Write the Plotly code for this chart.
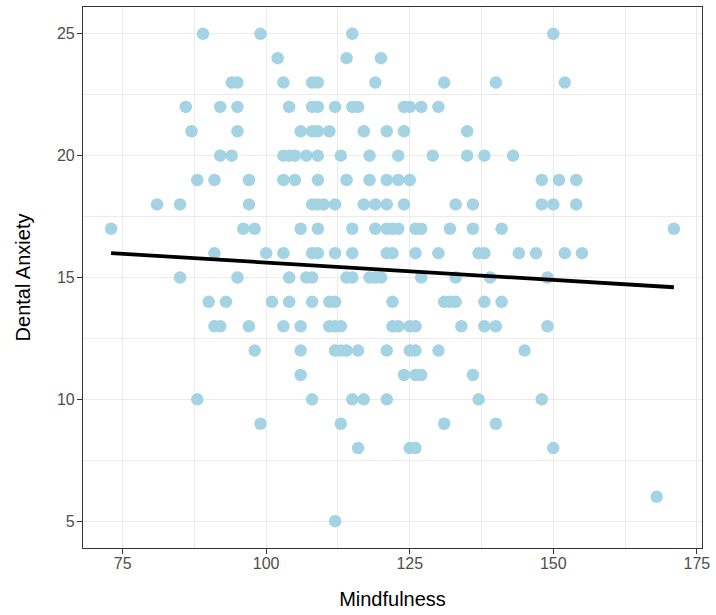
import plotly.graph_objects as go

mind_at_25 = [89, 99, 115, 150]
mind_at_24 = [102, 114, 120]
mind_at_23 = [94, 95, 103, 108, 109, 119, 131, 140, 152]
mind_at_22 = [86, 92, 95, 104, 108, 109, 112, 115, 116, 124, 125, 127, 130]
mind_at_21 = [87, 95, 106, 108, 109, 111, 117, 121, 124, 135]
mind_at_20 = [92, 94, 103, 104, 105, 107, 109, 113, 118, 123, 129, 135, 138, 143]
mind_at_19 = [88, 91, 97, 103, 105, 109, 114, 118, 121, 123, 125, 148, 151, 154]
mind_at_18 = [81, 85, 97, 108, 109, 110, 112, 117, 119, 121, 124, 133, 136, 148, 150, 154]
mind_at_17 = [73, 96, 98, 106, 109, 115, 119, 121, 122, 123, 126, 127, 132, 136, 141, 171]
mind_at_16 = [91, 100, 103, 108, 109, 112, 115, 121, 122, 126, 130, 137, 138, 144, 147, 152, 155]
mind_at_15 = [85, 95, 104, 107, 108, 114, 115, 118, 119, 120, 127, 133, 139, 149]
mind_at_14 = [90, 93, 101, 104, 108, 111, 112, 122, 131, 132, 133, 138, 141]
mind_at_13 = [91, 92, 97, 103, 106, 111, 112, 113, 122, 123, 125, 126, 134, 138, 140, 149]
mind_at_12 = [98, 106, 112, 113, 114, 116, 121, 125, 126, 130, 145]
mind_at_11 = [106, 124, 126, 127, 136]
mind_at_10 = [88, 108, 115, 117, 121, 137, 148]
mind_at_9 = [99, 113, 131, 140]
mind_at_8 = [116, 125, 126, 150]
mind_at_6 = [168]
mind_at_5 = [112]

levels = [25, 24, 23, 22, 21, 20, 19, 18, 17, 16, 15, 14, 13, 12, 11, 10, 9, 8, 6, 5]
groups = [mind_at_25, mind_at_24, mind_at_23, mind_at_22, mind_at_21, mind_at_20,
          mind_at_19, mind_at_18, mind_at_17, mind_at_16, mind_at_15, mind_at_14,
          mind_at_13, mind_at_12, mind_at_11, mind_at_10, mind_at_9, mind_at_8,
          mind_at_6, mind_at_5]

mindfulness = []
dental_anxiety = []
for lvl, xs in zip(levels, groups):
    mindfulness.extend(xs)
    dental_anxiety.extend([lvl] * len(xs))

# Fitted regression line end points
fit_x = [73, 171]
fit_y = [16.0, 14.6]

x_ticks = [75, 100, 125, 150, 175]
y_ticks = [5, 10, 15, 20, 25]

FONT = "Liberation Sans, Arial, sans-serif"

fig = go.Figure()
fig.add_trace(go.Scatter(
    x=mindfulness, y=dental_anxiety, mode="markers",
    marker=dict(color="#A4D3E3", size=12.5, line=dict(width=0)),
    showlegend=False, hoverinfo="x+y"))
fig.add_trace(go.Scatter(
    x=fit_x, y=fit_y, mode="lines",
    line=dict(color="black", width=3.8),
    showlegend=False))

axis_common = dict(
    automargin=False,
    showgrid=True, gridcolor="#EBEBEB", gridwidth=1.1,
    showline=True, linecolor="#333333", linewidth=1.2, mirror=True,
    ticks="outside", ticklen=5, tickcolor="#333333", tickwidth=1.1,
    tickfont=dict(family=FONT, size=16, color="#4D4D4D"),
    zeroline=False,
)

fig.update_xaxes(
    **axis_common,
    range=[68.1, 175.9], tickvals=x_ticks, ticktext=[str(v) for v in x_ticks],
    ticklabelstandoff=-4,
    minor=dict(showgrid=True, gridcolor="#EBEBEB", gridwidth=0.6,
               tickvals=[87.5, 112.5, 137.5, 162.5], ticks=""),
    title=dict(text="Mindfulness", standoff=20,
               font=dict(family=FONT, size=20, color="black")),
)
fig.update_yaxes(
    **axis_common,
    range=[3.9, 26.1], tickvals=y_ticks, ticktext=[str(v) for v in y_ticks],
    ticklabelstandoff=-1,
    minor=dict(showgrid=True, gridcolor="#EBEBEB", gridwidth=0.6,
               tickvals=[7.5, 12.5, 17.5, 22.5], ticks=""),
    title=dict(text="Dental Anxiety", standoff=20,
               font=dict(family=FONT, size=20, color="black")),
)

fig.update_layout(
    width=716, height=615,
    margin=dict(l=83, r=14, t=7, b=67, pad=0),
    paper_bgcolor="white", plot_bgcolor="white",
)

fig.write_html("out.html",
               config={"displayModeBar": False},
               post_script="document.body.style.margin='0';document.body.style.overflow='hidden';")
